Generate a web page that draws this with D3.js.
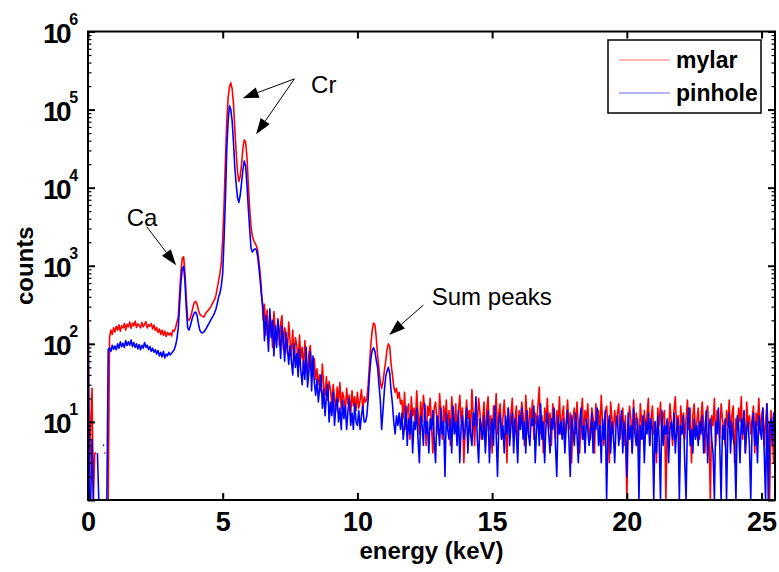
<!DOCTYPE html>
<html>
<head>
<meta charset="utf-8">
<script src="https://cdnjs.cloudflare.com/ajax/libs/d3/7.8.5/d3.min.js"></script>
<style>
  body { margin: 0; background: #fff; }
  text { font-family: "Liberation Sans", Arial, sans-serif; }
</style>
</head>
<body>
<div id="wrapper"></div>
<script>
// channel width of the spectrum (keV), channel i sits at i * channelWidth
const channelWidth = 0.05

const mylarCounts = [
  // 0.00 - 0.75
  1100, 1, 10, 27, 1, 4, 4, 0, 0, 0, 0, 0, 4, 4, 0, 1,
  // 0.80 - 3.15
  120, 150, 132, 160, 142, 168, 150, 175, 145, 170,
  160, 182, 150, 178, 165, 190, 158, 185, 170, 195,
  162, 180, 172, 160, 188, 165, 178, 192, 160, 176,
  168, 182, 155, 174, 148, 162, 140, 155, 132, 150,
  128, 146, 124, 140, 130, 138, 126, 150,
  // 3.20 - 3.70 (Ca)
  145, 160, 190, 220, 450, 850, 1250, 1300, 800, 380, 210,
  // 3.75 - 6.45 (Cr)
  200, 215, 250, 300, 340, 350, 320, 270, 240, 230,
  225, 220, 240, 255, 265, 280, 295, 320, 345, 370,
  420, 520, 650, 800, 1100, 2200, 6000, 22000, 70000, 140000,
  195000, 220000, 185000, 120000, 55000, 28000, 16000, 12000, 14000, 20000,
  32000, 41000, 38000, 25000, 11000, 5500, 3200, 2400, 2100, 1950,
  1800, 1550, 1100, 750, 420,
  // 6.50 - 10.25
  200, 320, 130, 270, 110, 240, 180, 90, 260, 150,
  120, 210, 95, 180, 230, 85, 160, 130, 75, 190,
  110, 70, 150, 60, 120, 95, 55, 130, 65, 90,
  45, 110, 60, 40, 75, 95, 50, 42, 65, 35,
  48, 30, 40, 24, 55, 28, 22, 38, 19, 33,
  26, 17, 30, 21, 14, 28, 18, 32, 15, 24,
  20, 13, 27, 17, 22, 12, 25, 16, 21, 14,
  24, 15, 19, 26, 14, 21,
  // 10.30 - 11.60 (sum peaks)
  18, 20, 30, 55, 100, 150, 185, 175, 120, 70,
  48, 32, 27, 33, 45, 60, 85, 100, 92, 55,
  40, 28, 24, 27, 20, 24, 17,
  // 11.65 - 25.50
  19, 11, 24, 8, 14, 17, 6, 21, 12, 15, 9, 25, 13, 7, 18, 10, 22, 14, 5, 16,
  12, 20, 9, 4, 15, 18, 11, 7, 23, 13, 6, 16, 10, 19, 8, 14, 5, 21, 12, 9,
  17, 6, 13, 22, 10, 15, 3, 8, 19, 11, 14, 7, 26, 12, 5, 16, 9, 20, 13, 6,
  11, 18, 5, 14, 21, 8, 12, 4, 16, 10, 23, 7, 13, 17, 6, 11, 19, 9, 3, 15,
  8, 13, 20, 6, 11, 16, 4, 14, 9, 18, 12, 5, 22, 10, 7, 15, 11, 19, 6, 13,
  9, 16, 28, 7, 12, 4, 15, 10, 20, 8, 13, 5, 17, 11, 6, 14, 9, 21, 7, 12,
  16, 5, 10, 19, 8, 13, 3, 11, 15, 7, 18, 9, 4, 12, 20, 6, 14, 10, 17, 8,
  6, 15, 11, 4, 17, 9, 14, 7, 22, 10, 5, 13, 16, 8, 3, 18, 11, 7, 14, 9,
  13, 17, 6, 10, 15, 5, 12, 1, 8, 16, 11, 4, 19, 7, 13, 9, 3, 17, 10, 6,
  14, 8, 12, 20, 5, 11, 16, 7, 10, 3, 15, 9, 18, 6, 12, 14, 1, 10, 7, 17,
  10, 5, 14, 21, 8, 12, 4, 16, 9, 13, 6, 11, 19, 8, 15, 3, 12, 17, 7, 10,
  15, 6, 11, 18, 9, 4, 13, 16, 7, 1, 12, 9, 20, 5, 14, 10, 6, 17, 11, 8,
  5, 14, 9, 19, 7, 12, 16, 3, 11, 8, 15, 10, 21, 6, 13, 4, 18, 9, 12, 7,
  11, 16, 4, 13, 9, 20, 7, 12, 15, 5, 10, 17, 8, 1, 14, 9, 3, 12
]

const pinholeCounts = [
  // 0.00 - 0.75
  600, 1, 1, 6, 1, 1, 0, 4, 1, 0, 0, 5, 5, 0, 1, 85,
  // 0.80 - 3.15
  88, 80, 96, 85, 94, 84, 100, 88, 106, 92,
  102, 90, 110, 95, 106, 96, 112, 92, 104, 90,
  100, 86, 98, 84, 96, 88, 104, 90, 96, 84,
  92, 80, 88, 78, 84, 74, 82, 70, 78, 68,
  80, 66, 74, 70, 78, 72, 76, 80,
  // 3.20 - 3.70 (Ca)
  84, 95, 115, 160, 320, 620, 920, 980, 620, 280, 160,
  // 3.75 - 6.45 (Cr)
  150, 170, 200, 230, 250, 255, 230, 180, 150, 140,
  138, 142, 150, 160, 172, 185, 200, 215, 230, 250,
  280, 330, 400, 450, 560, 800, 2200, 7000, 30000, 70000,
  112000, 100000, 72000, 38000, 18000, 11000, 7500, 6500, 8000, 11500,
  17000, 22000, 19000, 11000, 5500, 3000, 1700, 1500, 1600, 1650,
  1600, 1300, 900, 600, 380,
  // 6.50 - 10.25
  300, 110, 230, 160, 80, 280, 120, 200, 70, 170,
  90, 200, 140, 65, 170, 110, 60, 140, 90, 55,
  95, 60, 40, 100, 50, 75, 38, 85, 45, 30,
  60, 35, 90, 28, 45, 80, 25, 70, 32, 22,
  35, 18, 28, 40, 15, 26, 12, 22, 30, 10,
  18, 12, 24, 9, 16, 20, 10, 15, 8, 19,
  11, 16, 8, 14, 20, 9, 13, 8, 17, 10,
  9, 14, 8, 12, 16, 10,
  // 10.30 - 11.60 (sum peaks)
  10, 12, 20, 40, 65, 83, 89, 80, 62, 50,
  30, 19, 8, 14, 25, 38, 45, 50, 42, 25,
  17, 10, 7, 12, 9, 13, 8,
  // 11.65 - 25.50
  13, 6, 9, 16, 5, 11, 7, 14, 4, 10, 8, 15, 6, 3, 12, 9, 5, 17, 7, 10,
  4, 11, 8, 14, 6, 3, 12, 9, 5, 15, 7, 10, 2, 13, 8, 6, 11, 4, 16, 7,
  10, 5, 14, 3, 9, 12, 6, 8, 15, 4, 11, 7, 5, 13, 9, 21, 6, 3, 11, 8,
  6, 12, 4, 9, 14, 3, 8, 11, 5, 16, 7, 2, 10, 13, 6, 9, 4, 12, 7, 15,
  5, 9, 13, 4, 11, 7, 3, 12, 8, 15, 6, 10, 4, 14, 7, 5, 11, 9, 16, 3,
  8, 12, 5, 17, 6, 10, 3, 9, 13, 7, 4, 11, 8, 15, 5, 2, 12, 7, 10, 6,
  11, 4, 9, 14, 6, 2, 12, 8, 5, 13, 7, 3, 10, 15, 6, 9, 4, 11, 8, 5,
  7, 13, 4, 10, 8, 15, 5, 9, 3, 11, 6, 14, 1, 8, 12, 4, 10, 7, 3, 9,
  12, 5, 8, 14, 4, 10, 7, 2, 13, 6, 9, 4, 15, 7, 5, 11, 1, 9, 6, 12,
  3, 10, 7, 13, 5, 11, 8, 1, 10, 4, 12, 6, 1, 14, 5, 9, 7, 11, 3, 8,
  10, 6, 13, 4, 8, 11, 1, 9, 7, 12, 3, 1, 10, 15, 5, 8, 4, 11, 6, 9,
  5, 10, 7, 12, 4, 8, 14, 3, 9, 11, 6, 4, 1, 10, 7, 15, 5, 1, 9, 6,
  11, 1, 8, 13, 4, 10, 6, 5, 1, 12, 9, 3, 11, 7, 14, 4, 8, 10, 5, 1,
  9, 13, 5, 10, 3, 12, 8, 6, 15, 4, 1, 17, 1, 9, 11, 5, 13, 6
]

const seriesNames = ['mylar', 'pinhole']
const xTickValues = [0, 5, 10, 15, 20, 25]
const yTickExponents = [1, 2, 3, 4, 5, 6]

// annotations in data units: [energy keV, counts]
const noteLabels = ['Ca', 'Cr', 'Sum peaks']
const noteLabelAt = [[1.44, 3230], [8.28, 165000], [12.76, 314]]
const arrowFrom = [[2.18, 3165], [7.66, 247000], [7.66, 247000], [12.45, 314]]
const arrowTo = [[3.27, 1015], [5.74, 140000], [6.24, 48300], [11.18, 130]]

async function drawSpectrum() {
  //access data
  const series = [
    {name: seriesNames[0], counts: mylarCounts, color: '#ff0000'},
    {name: seriesNames[1], counts: pinholeCounts, color: '#0000ff'}
  ]
  const xAccessor = (d, i) => i * channelWidth
  const yAccessor = d => d

  //create dimensions
  let dimensions = {
    width: 779,
    height: 572,
    margin: {
      top: 31.5,
      right: 4,
      bottom: 72,
      left: 88
    }
  }
  dimensions.boundedWidth = dimensions.width - dimensions.margin.left - dimensions.margin.right
  dimensions.boundedHeight = dimensions.height - dimensions.margin.top - dimensions.margin.bottom

  //draw canvas
  const wrapper = d3.select('#wrapper')
    .append('svg')
      .attr('width', dimensions.width)
      .attr('height', dimensions.height)
      .style('display', 'block')

  const bounds = wrapper.append('g')
    .attr('transform', `translate(${dimensions.margin.left}, ${dimensions.margin.top})`)

  bounds.append('defs').append('clipPath')
      .attr('id', 'plot-clip')
    .append('rect')
      .attr('width', dimensions.boundedWidth)
      .attr('height', dimensions.boundedHeight)

  //create scales
  const xScale = d3.scaleLinear()
    .domain([0, 25.5])
    .range([0, dimensions.boundedWidth])

  const yScale = d3.scaleLog()
    .domain([1, 1e6])
    .range([dimensions.boundedHeight, 0])

  //draw data
  const lineGenerator = d3.line()
    .defined(d => yAccessor(d) > 0)
    .x((d, i) => xScale(xAccessor(d, i)))
    .y(d => yScale(yAccessor(d)))

  bounds.append('g')
      .attr('clip-path', 'url(#plot-clip)')
    .selectAll('path')
    .data(series)
    .join('path')
      .attr('d', d => lineGenerator(d.counts))
      .attr('fill', 'none')
      .attr('stroke', d => d.color)
      .attr('stroke-width', 1.6)
      .attr('stroke-linejoin', 'round')

  //draw axes
  const minorValues = []
  d3.range(0, 6).forEach(e => d3.range(2, 10).forEach(m => minorValues.push(m * Math.pow(10, e))))
  const majorValues = [1].concat(yTickExponents.map(e => Math.pow(10, e)))

  const styleAxis = g => {
    g.select('.domain').remove()
    g.selectAll('line').attr('stroke', '#000').attr('stroke-width', 2)
  }

  bounds.append('g')
    .attr('transform', `translate(0, ${dimensions.boundedHeight})`)
    .call(d3.axisBottom(xScale).tickValues(xTickValues).tickSizeInner(-7).tickSizeOuter(0).tickPadding(12))
    .call(styleAxis)
    .call(g => g.selectAll('text')
      .attr('fill', '#000')
      .style('font-size', '27px')
      .style('font-weight', 'bold')
      .style('font-family', '"Liberation Sans", Arial, sans-serif'))

  bounds.append('g')
    .call(d3.axisTop(xScale).tickValues(xTickValues).tickSizeInner(-7).tickSizeOuter(0).tickFormat(''))
    .call(styleAxis)

  bounds.append('g')
    .call(d3.axisLeft(yScale).tickValues(majorValues).tickSizeInner(-7).tickSizeOuter(0).tickFormat(''))
    .call(styleAxis)
  bounds.append('g')
    .call(d3.axisLeft(yScale).tickValues(minorValues).tickSizeInner(-3.5).tickSizeOuter(0).tickFormat(''))
    .call(styleAxis)
    .call(g => g.selectAll('line').attr('stroke-width', 1.2))

  bounds.append('g')
    .attr('transform', `translate(${dimensions.boundedWidth}, 0)`)
    .call(d3.axisRight(yScale).tickValues(majorValues).tickSizeInner(-7).tickSizeOuter(0).tickFormat(''))
    .call(styleAxis)
  bounds.append('g')
    .attr('transform', `translate(${dimensions.boundedWidth}, 0)`)
    .call(d3.axisRight(yScale).tickValues(minorValues).tickSizeInner(-3.5).tickSizeOuter(0).tickFormat(''))
    .call(styleAxis)
    .call(g => g.selectAll('line').attr('stroke-width', 1.2))

  // y tick labels as 10 with a raised exponent, one text each
  const yLabels = bounds.append('g')
    .selectAll('text')
    .data(yTickExponents)
    .join('text')
      .attr('x', -45)
      .attr('y', d => yScale(Math.pow(10, d)) + 11)
      .style('font-weight', 'bold')
      .attr('fill', '#000')

  yLabels.append('tspan')
    .style('font-size', '28px')
    .style('letter-spacing', '-2.5px')
    .text('10')

  yLabels.append('tspan')
    .attr('dy', -18)
    .style('font-size', '16px')
    .text(d => d)

  // plot box
  bounds.append('rect')
    .attr('width', dimensions.boundedWidth)
    .attr('height', dimensions.boundedHeight)
    .attr('fill', 'none')
    .attr('stroke', '#000')
    .attr('stroke-width', 2)

  // axis labels
  wrapper.append('text')
    .attr('x', dimensions.margin.left + dimensions.boundedWidth / 2)
    .attr('y', 559)
    .attr('text-anchor', 'middle')
    .style('font-size', '24px')
    .style('font-weight', 'bold')
    .text('energy (keV)')

  wrapper.append('text')
    .attr('transform', `translate(33, ${dimensions.margin.top + dimensions.boundedHeight / 2}) rotate(-90)`)
    .attr('text-anchor', 'middle')
    .style('font-size', '24px')
    .style('font-weight', 'bold')
    .text('counts')

  //annotations
  const notes = bounds.append('g')
  notes.selectAll('text')
    .data(noteLabels)
    .join('text')
      .attr('x', (d, i) => xScale(noteLabelAt[i][0]))
      .attr('y', (d, i) => yScale(noteLabelAt[i][1]))
      .style('font-size', '24px')
      .text(d => d)

  const headLength = 16
  const headHalfWidth = 5.5
  arrowFrom.forEach((from, i) => {
    const x0 = xScale(from[0]), y0 = yScale(from[1])
    const x1 = xScale(arrowTo[i][0]), y1 = yScale(arrowTo[i][1])
    const angle = Math.atan2(y1 - y0, x1 - x0)
    const bx = x1 - headLength * Math.cos(angle)
    const by = y1 - headLength * Math.sin(angle)
    const px = -Math.sin(angle) * headHalfWidth
    const py = Math.cos(angle) * headHalfWidth
    notes.append('line')
      .attr('x1', x0).attr('y1', y0)
      .attr('x2', bx).attr('y2', by)
      .attr('stroke', '#000')
      .attr('stroke-width', 1)
    notes.append('polygon')
      .attr('points', [[x1, y1], [bx + px, by + py], [bx - px, by - py]].map(p => p.join(',')).join(' '))
      .attr('fill', '#000')
  })

  //legend
  const legend = wrapper.append('g')
    .attr('transform', 'translate(608, 40)')

  legend.append('rect')
    .attr('width', 153)
    .attr('height', 73)
    .attr('fill', '#fff')
    .attr('stroke', '#000')
    .attr('stroke-width', 1.5)

  const legendItems = legend.selectAll('g')
    .data(series)
    .join('g')
      .attr('transform', (d, i) => `translate(0, ${20 + i * 33})`)

  legendItems.append('line')
    .attr('x1', 11)
    .attr('x2', 62)
    .attr('stroke', d => d.color)
    .attr('stroke-width', 1)
    .attr('stroke-opacity', 0.6)

  legendItems.append('text')
    .attr('x', 68)
    .attr('y', 8)
    .style('font-size', '23px')
    .style('font-weight', 'bold')
    .text(d => d.name)
}

drawSpectrum()
</script>
</body>
</html>
